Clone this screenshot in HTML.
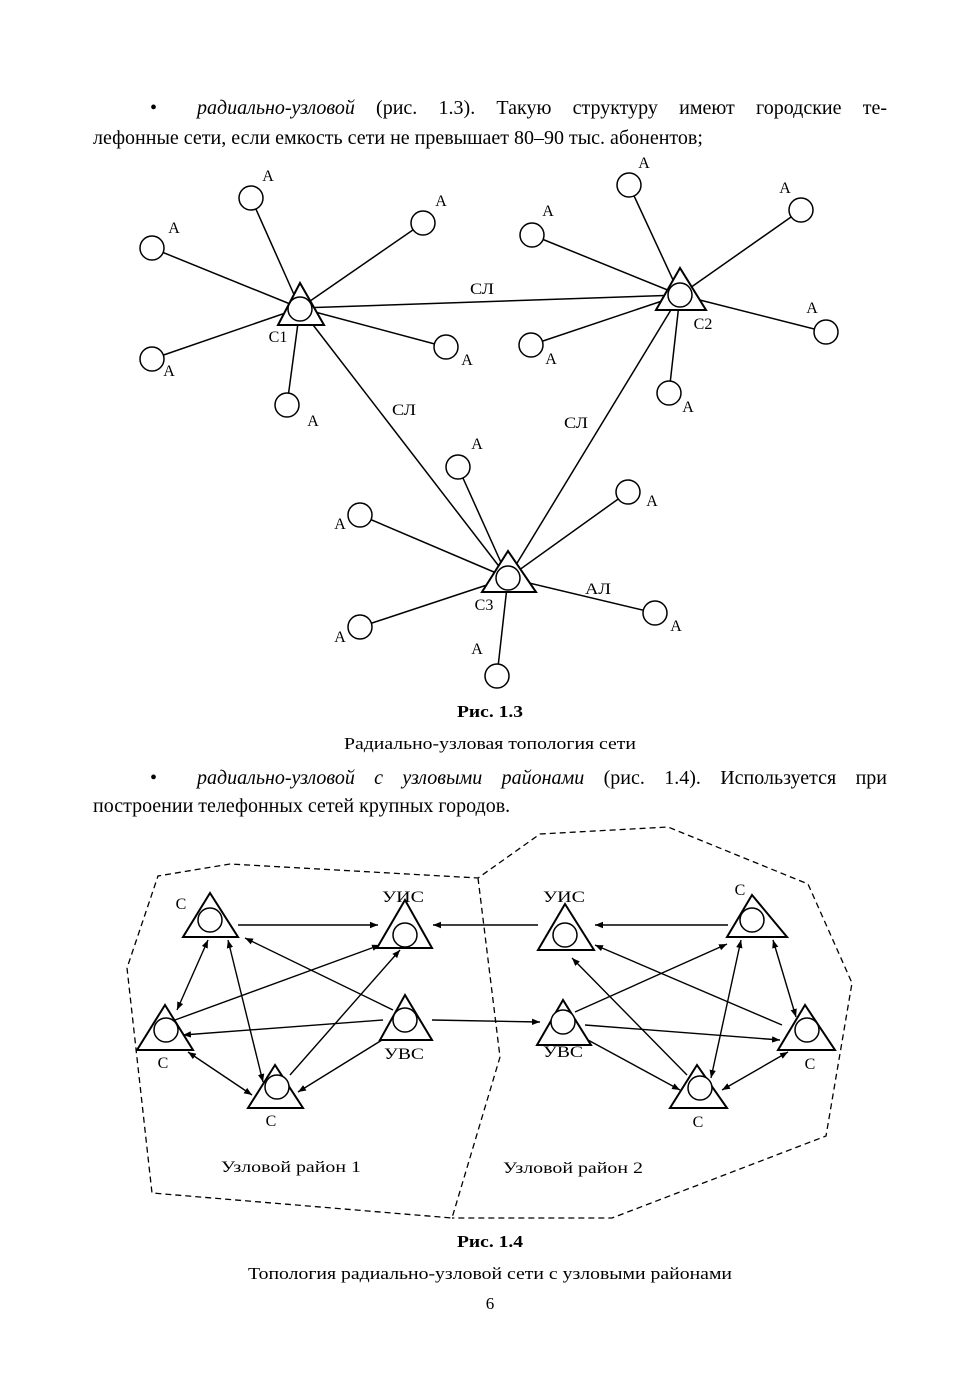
<!DOCTYPE html>
<html><head><meta charset="utf-8"><style>
html,body{margin:0;padding:0;background:#fff;}
svg{display:block;position:absolute;left:0;top:0;}
.t{font-family:"Liberation Serif",serif;fill:#000;}
.p{position:absolute;left:93px;width:794px;font-family:"Liberation Serif",serif;font-size:20px;line-height:29px;text-align:justify;text-align-last:justify;color:#000;z-index:2;}
.p2{text-align-last:left;}
.b{display:inline-block;width:47px;text-indent:0;}
</style></head><body>
<div class="p" style="top:94px;text-indent:57px;"><span class="b">•</span><i>радиально-узловой</i> (рис. 1.3). Такую структуру имеют городские те-</div>
<div class="p p2" style="top:124px;">лефонные сети, если емкость сети не превышает 80–90 тыс. абонентов;</div>
<div class="p" style="top:764px;text-indent:57px;"><span class="b">•</span><i>радиально-узловой с узловыми районами</i> (рис. 1.4). Используется при</div>
<div class="p p2" style="top:792px;">построении телефонных сетей крупных городов.</div>
<svg width="980" height="1386" viewBox="0 0 980 1386" xmlns="http://www.w3.org/2000/svg">
<defs>
<marker id="ar" viewBox="0 0 10 10" refX="10" refY="5" markerWidth="8" markerHeight="8" orient="auto-start-reverse" markerUnits="userSpaceOnUse"><path d="M0,1 L10,5 L0,9 z" fill="#000"/></marker>
</defs>
<g class="t" font-size="17" text-anchor="middle">
<text x="490" y="717" font-weight="bold" textLength="66" lengthAdjust="spacingAndGlyphs">Рис. 1.3</text>
<text x="490" y="749" textLength="292" lengthAdjust="spacingAndGlyphs">Радиально-узловая топология сети</text>
<text x="490" y="1247" font-weight="bold" textLength="66" lengthAdjust="spacingAndGlyphs">Рис. 1.4</text>
<text x="490" y="1279" textLength="484" lengthAdjust="spacingAndGlyphs">Топология радиально-узловой сети с узловыми районами</text>
<text x="490" y="1309">6</text>
</g>

<!-- Fig 1.3 -->
<g stroke="#000" stroke-width="1.5" fill="none">
<line x1="300" y1="308" x2="251" y2="198"/><line x1="300" y1="308" x2="423" y2="223"/>
<line x1="300" y1="308" x2="152" y2="248"/><line x1="300" y1="308" x2="152" y2="359"/>
<line x1="300" y1="308" x2="446" y2="347"/><line x1="300" y1="308" x2="287" y2="405"/>
<line x1="680" y1="295" x2="629" y2="185"/><line x1="680" y1="295" x2="801" y2="210"/>
<line x1="680" y1="295" x2="532" y2="235"/><line x1="680" y1="295" x2="826" y2="332"/>
<line x1="680" y1="295" x2="531" y2="345"/><line x1="680" y1="295" x2="669" y2="393"/>
<line x1="508" y1="578" x2="458" y2="467"/><line x1="508" y1="578" x2="628" y2="492"/>
<line x1="508" y1="578" x2="360" y2="515"/><line x1="508" y1="578" x2="360" y2="627"/>
<line x1="508" y1="578" x2="655" y2="613"/><line x1="508" y1="578" x2="497" y2="676"/>
<line x1="300" y1="308" x2="680" y2="295"/><line x1="300" y1="308" x2="508" y2="578"/><line x1="680" y1="295" x2="508" y2="578"/>
<g fill="#fff">
<circle cx="251" cy="198" r="12"/><circle cx="423" cy="223" r="12"/><circle cx="152" cy="248" r="12"/>
<circle cx="152" cy="359" r="12"/><circle cx="446" cy="347" r="12"/><circle cx="287" cy="405" r="12"/>
<circle cx="629" cy="185" r="12"/><circle cx="801" cy="210" r="12"/><circle cx="532" cy="235" r="12"/>
<circle cx="826" cy="332" r="12"/><circle cx="531" cy="345" r="12"/><circle cx="669" cy="393" r="12"/>
<circle cx="458" cy="467" r="12"/><circle cx="628" cy="492" r="12"/><circle cx="360" cy="515" r="12"/>
<circle cx="360" cy="627" r="12"/><circle cx="655" cy="613" r="12"/><circle cx="497" cy="676" r="12"/>
</g>
<polygon points="300,283 278,325 324,325" fill="#fff" stroke-width="2"/><circle cx="300" cy="309" r="12"/>
<polygon points="680,268 656,310 706,310" fill="#fff" stroke-width="2"/><circle cx="680" cy="295" r="12"/>
<polygon points="508,551 482,592 536,592" fill="#fff" stroke-width="2"/><circle cx="508" cy="578" r="12"/>
</g>
<g class="t" font-size="16" text-anchor="middle">
<text x="268" y="181">А</text><text x="441" y="206">А</text><text x="174" y="233">А</text><text x="169" y="376">А</text>
<text x="467" y="365">А</text><text x="313" y="426">А</text>
<text x="644" y="168">А</text><text x="785" y="193">А</text><text x="548" y="216">А</text><text x="812" y="313">А</text>
<text x="551" y="364">А</text><text x="688" y="412">А</text>
<text x="477" y="449">А</text><text x="652" y="506">А</text><text x="340" y="529">А</text><text x="340" y="642">А</text>
<text x="676" y="631">А</text><text x="477" y="654">А</text>
<text x="482" y="294" textLength="24" lengthAdjust="spacingAndGlyphs">СЛ</text><text x="404" y="415" textLength="24" lengthAdjust="spacingAndGlyphs">СЛ</text><text x="576" y="428" textLength="24" lengthAdjust="spacingAndGlyphs">СЛ</text><text x="598" y="594" textLength="26" lengthAdjust="spacingAndGlyphs">АЛ</text>
<text x="278" y="342">С1</text><text x="703" y="329">С2</text><text x="484" y="610">С3</text>
</g>

<!-- Fig 1.4 -->
<g stroke="#000" stroke-width="1.3" fill="none" stroke-dasharray="6,4">
<polyline points="478,878 500,1057 452,1218 152,1193 127,968 158,876 230,864 478,878 540,834 668,827 808,884 852,983 826,1136 612,1218 452,1218"/>
</g>
<g stroke="#000" stroke-width="1.4" fill="none" marker-end="url(#ar)">
<line x1="238" y1="925" x2="378" y2="925"/>
<line x1="728" y1="925" x2="595" y2="925"/>
<line x1="538" y1="925" x2="433" y2="925"/>
<line x1="208" y1="940" x2="177" y2="1010" marker-start="url(#ar)"/>
<line x1="228" y1="940" x2="263" y2="1082" marker-start="url(#ar)"/>
<line x1="393" y1="1010" x2="245" y2="938"/>
<line x1="175" y1="1020" x2="380" y2="945"/>
<line x1="383" y1="1020" x2="183" y2="1035"/>
<line x1="188" y1="1052" x2="252" y2="1095" marker-start="url(#ar)"/>
<line x1="290" y1="1075" x2="400" y2="950"/>
<line x1="382" y1="1040" x2="298" y2="1092"/>
<line x1="432" y1="1020" x2="540" y2="1022"/>
<line x1="575" y1="1012" x2="727" y2="944"/>
<line x1="782" y1="1025" x2="595" y2="945"/>
<line x1="687" y1="1075" x2="572" y2="958"/>
<line x1="585" y1="1025" x2="780" y2="1040"/>
<line x1="588" y1="1040" x2="680" y2="1090"/>
<line x1="741" y1="940" x2="711" y2="1078" marker-start="url(#ar)"/>
<line x1="773" y1="940" x2="796" y2="1017" marker-start="url(#ar)"/>
<line x1="722" y1="1090" x2="788" y2="1052" marker-start="url(#ar)"/>
</g>
<g stroke="#000" stroke-width="2" fill="#fff">
<polygon points="210,893 183,937 238,937"/><circle cx="210" cy="920" r="12" stroke-width="1.5"/>
<polygon points="405,900 377,948 432,948"/><circle cx="405" cy="935" r="12" stroke-width="1.5"/>
<polygon points="405,995 380,1040 432,1040"/><circle cx="405" cy="1020" r="12" stroke-width="1.5"/>
<polygon points="165,1005 137,1050 193,1050"/><circle cx="166" cy="1030" r="12" stroke-width="1.5"/>
<polygon points="275,1065 248,1108 303,1108"/><circle cx="277" cy="1087" r="12" stroke-width="1.5"/>
<polygon points="565,904 538,950 594,950"/><circle cx="565" cy="935" r="12" stroke-width="1.5"/>
<polygon points="563,1000 537,1045 591,1045"/><circle cx="563" cy="1022" r="12" stroke-width="1.5"/>
<polygon points="752,895 727,937 787,937"/><circle cx="752" cy="920" r="12" stroke-width="1.5"/>
<polygon points="805,1005 778,1050 835,1050"/><circle cx="807" cy="1030" r="12" stroke-width="1.5"/>
<polygon points="697,1065 670,1108 727,1108"/><circle cx="700" cy="1088" r="12" stroke-width="1.5"/>
</g>
<g class="t" font-size="16" text-anchor="middle">
<text x="181" y="909">С</text><text x="403" y="902" textLength="42" lengthAdjust="spacingAndGlyphs">УИС</text><text x="163" y="1068">С</text><text x="404" y="1059" textLength="40" lengthAdjust="spacingAndGlyphs">УВС</text>
<text x="271" y="1126">С</text><text x="564" y="902" textLength="42" lengthAdjust="spacingAndGlyphs">УИС</text><text x="740" y="895">С</text><text x="563" y="1057" textLength="40" lengthAdjust="spacingAndGlyphs">УВС</text>
<text x="810" y="1069">С</text><text x="698" y="1127">С</text>
<text x="291" y="1172" textLength="140" lengthAdjust="spacingAndGlyphs">Узловой район 1</text><text x="573" y="1173" textLength="140" lengthAdjust="spacingAndGlyphs">Узловой район 2</text>
</g>
</svg>
</body></html>
